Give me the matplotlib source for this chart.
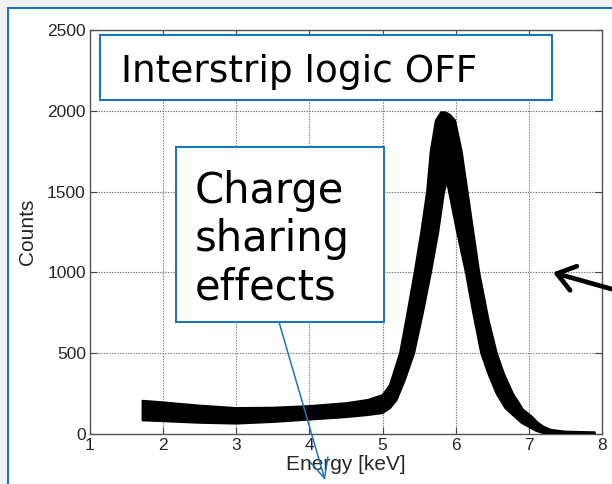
import numpy as np
import matplotlib
matplotlib.use("Agg")
import matplotlib.pyplot as plt
from matplotlib.patches import Rectangle

# upper / lower edge of the (noisy) spectrum band
e_hi = [1.72, 2.0, 2.5, 3.0, 3.5, 4.0, 4.5, 4.8, 5.0, 5.1, 5.17, 5.24, 5.33, 5.44,
        5.53, 5.61, 5.66, 5.73, 5.80, 5.86, 5.92, 5.99, 6.08, 6.16, 6.24, 6.32,
        6.45, 6.56, 6.66, 6.78, 6.92, 7.04, 7.12, 7.20, 7.30, 7.50, 7.90]
c_hi = [205, 195, 175, 160, 162, 172, 190, 210, 240, 300, 400, 500, 720, 1000,
        1250, 1500, 1750, 1940, 1990, 1990, 1975, 1940, 1750, 1500, 1250, 1000,
        700, 500, 370, 250, 150, 107, 70, 45, 25, 14, 10]

e_lo = [1.72, 2.0, 2.5, 3.0, 3.5, 4.0, 4.5, 4.8, 5.0, 5.1, 5.19, 5.30, 5.43, 5.55,
        5.66, 5.76, 5.84, 5.88, 5.91, 6.02, 6.14, 6.24, 6.35, 6.45, 6.56, 6.68,
        6.81, 6.90, 7.00, 7.10, 7.20, 7.50, 7.90]
c_lo = [85, 80, 70, 65, 75, 90, 105, 118, 130, 160, 210, 330, 500, 750,
        1000, 1250, 1500, 1565, 1500, 1250, 1000, 750, 500, 370, 250, 160,
        107, 70, 45, 20, 6, 1, 1]

x_ticks = [1, 2, 3, 4, 5, 6, 7, 8]
y_ticks = [0, 500, 1000, 1500, 2000, 2500]

W, H = 612, 484
BLUE = "#1b75bb"

def main():
	fig = plt.figure(figsize=(W / 100, H / 100), dpi=100)
	fig.patch.set_facecolor("#eff1f4")

	# slide frame
	fig.add_artist(Rectangle((8 / W, -0.1), 1.1, 1 - 8 / H + 0.1, transform=fig.transFigure,
	                         facecolor="white", edgecolor=BLUE, lw=1.5, zorder=-1))

	ax = fig.add_axes([90 / W, 1 - 434 / H, 512 / W, 404 / H])
	ax.fill(np.r_[e_hi, e_lo[::-1]], np.r_[c_hi, c_lo[::-1]],
	        facecolor="black", edgecolor="black", lw=1.6, joinstyle="round", zorder=3)

	ax.set_xlim(1, 8)
	ax.set_ylim(0, 2500)
	ax.set_xticks(x_ticks)
	ax.set_yticks(y_ticks)
	ax.grid(True, linestyle=(0, (1.2, 1.2)), color="#777777", lw=0.8)
	ax.tick_params(direction="in", length=5, top=True, right=True, width=0.8,
	               labelsize=12.5, labelcolor="#262626", color="#444444", pad=3)
	for lab in ax.get_xticklabels() + ax.get_yticklabels():
		lab.set_family("Liberation Sans")
	for s in ax.spines.values():
		s.set_color("#555555")
		s.set_linewidth(1.0)
	ax.set_xlabel("Energy [keV]", family="Liberation Sans", fontsize=15, color="#262626", labelpad=1)
	ax.set_ylabel("Counts", family="Liberation Sans", fontsize=15, color="#262626", labelpad=7)

	# annotation boxes (image pixel coords -> figure fraction)
	def box(x0, y0, x1, y1):
		fig.add_artist(Rectangle((x0 / W, 1 - y1 / H), (x1 - x0) / W, (y1 - y0) / H,
		                         transform=fig.transFigure, facecolor="white",
		                         edgecolor=BLUE, lw=1.5, zorder=5))

	box(100, 35, 552, 100)
	fig.text(121 / W, 1 - 82 / H, "Interstrip logic OFF", fontsize=27,
	         family="DejaVu Sans", va="baseline", zorder=6)

	box(176, 147, 384, 322)
	fig.text(195 / W, 1 - 300 / H, "Charge\nsharing\neffects", fontsize=30,
	         family="DejaVu Sans", va="baseline", linespacing=1.2, zorder=6)

	ax.annotate("", xy=(325, H - 480), xytext=(279, H - 322), xycoords="figure pixels",
	            arrowprops=dict(arrowstyle="->,head_length=0.7,head_width=0.33", color=BLUE,
	                            lw=1.1, shrinkA=0, shrinkB=0, mutation_scale=20), zorder=7)
	ax.annotate("", xy=(553, H - 272.5), xytext=(615, H - 290), xycoords="figure pixels",
	            arrowprops=dict(arrowstyle="->,head_length=0.62,head_width=0.45", color="black",
	                            lw=3.4, shrinkA=0, shrinkB=0, mutation_scale=20), zorder=7)

	fig.savefig("out.png", dpi=100, facecolor=fig.get_facecolor())


if __name__ == "__main__":
	main()
